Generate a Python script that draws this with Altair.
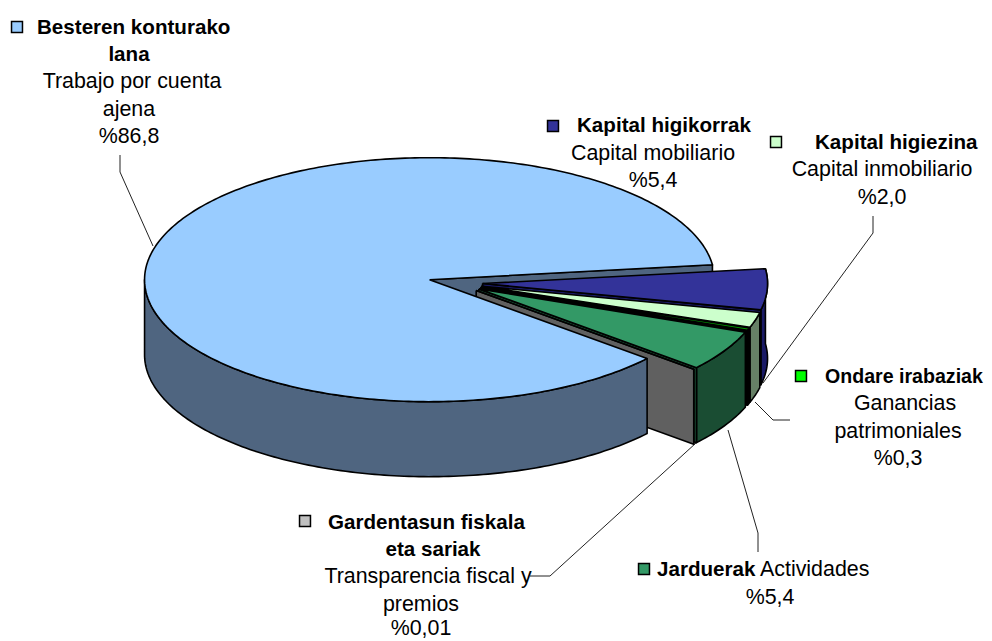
import math
import altair as alt
import pandas as pd

# Slice values (percent) in drawing order, clockwise from the upper-right edge
names = ["Kapital higikorrak", "Kapital higiezina", "Ondare irabaziak", "Jarduerak", "Gardentasun fiskala", "Besteren konturako lana"]
shares = [5.4, 2.0, 0.3, 5.4, 0.01, 86.8]
tops = ["#333399", "#CCFFCC", "#00A000", "#339966", "#C0C0C0", "#99CCFF"]
walls = ["#1A1A66", "#668066", "#000000", "#1A4D33", "#606060", "#4F6580"]
swatches = ["#333399", "#CCFFCC", "#00FF00", "#339966", "#C0C0C0", "#99CCFF"]

# Pie geometry, in picture pixels
CX, CY, RX, RY, DEPTH, EXPLODE, START = 455.5, 283, 285, 122, 75, 0.095, -7
W, H = 976, 633


def rim(cx, cy, t):
    r = math.radians(t)
    return cx + RX * math.cos(r), cy + RY * math.sin(r)


def arc(cx, cy, a, b, dy=0):
    n = max(2, int(abs(b - a)) + 1)
    pts = []
    for i in range(n + 1):
        x, y = rim(cx, cy, a + (b - a) * i / n)
        pts.append((x, y + dy))
    return pts


def poly(points, fill, sw=1.6):
    closed = list(points) + [points[0]]
    df = pd.DataFrame({"x": [p[0] for p in closed], "y": [p[1] for p in closed], "i": range(len(closed))})
    return alt.Chart(df).mark_line(fill=fill, stroke="#000000", strokeWidth=sw, strokeJoin="round").encode(
        x=X, y=Y, order=alt.Order("i:Q"))


X = alt.X("x:Q", scale=alt.Scale(domain=[8, 8 + W]), axis=None)
Y = alt.Y("y:Q", scale=alt.Scale(domain=[8 + H, 8]), axis=None)

layers = []
t = START
geom = []
total = sum(shares)
for name, s, top, wall in zip(names, shares, tops, walls):
    sweep = s / total * 360
    a, b = t, t + sweep
    mid = math.radians((a + b) / 2)
    cx = CX + EXPLODE * RX * math.cos(mid)
    cy = CY + EXPLODE * RY * math.sin(mid)
    geom.append((cx, cy, a, b, top, wall))
    t = b

# cut face of the large slice, seen through the wedge
cx, cy, a, b, top, wall = geom[5]
e = rim(cx, cy, b)
layers.append(poly([(cx, cy), e, (e[0], e[1] + DEPTH), (cx, cy + DEPTH)], wall))

for cx, cy, a, b, top, wall in geom[:5]:
    layers.append(poly(arc(cx, cy, a, b) + arc(cx, cy, b, a, DEPTH), wall))
    e = rim(cx, cy, b)
    layers.append(poly([(cx, cy), e, (e[0], e[1] + DEPTH), (cx, cy + DEPTH)], wall))
    layers.append(poly([(cx, cy)] + arc(cx, cy, a, b), top))

cx, cy, a, b, top, wall = geom[5]
layers.append(poly(arc(cx, cy, a, 180) + arc(cx, cy, 180, a, DEPTH), wall))
layers.append(poly([(cx, cy)] + arc(cx, cy, a, b), top))

# leader lines
leaders = [
    [(120, 155), (120, 172), (153, 246)],
    [(873, 216), (873, 233), (763, 383)],
    [(755, 402), (773, 420), (790, 420)],
    [(728, 430), (758, 533), (758, 552)],
    [(696, 443), (550, 576), (530, 576)],
]
for pts in leaders:
    df = pd.DataFrame({"x": [p[0] for p in pts], "y": [p[1] for p in pts], "i": range(len(pts))})
    layers.append(alt.Chart(df).mark_line(stroke="#222222", strokeWidth=1).encode(x=X, y=Y, order=alt.Order("i:Q")))

# legend keys
key_x = [553, 776, 801, 644, 305, 17]
key_y = [126, 142, 376, 569, 521, 27]
keys = pd.DataFrame({"x": key_x, "y": key_y, "c": swatches})
layers.append(alt.Chart(keys).mark_point(shape="square", filled=True, size=120, stroke="#000000", strokeWidth=1.5, opacity=1).encode(
    x=X, y=Y, fill=alt.Fill("c:N", scale=None)))

# labels: text, x, y, bold, align, size
labels = [
    ("Besteren konturako", 37, 28, True, "left", 20.6),
    ("lana", 129, 55, True, "center", 20.6),
    ("Trabajo por  cuenta", 132, 82, False, "center", 21.4),
    ("ajena", 129, 110, False, "center", 21.4),
    ("%86,8", 129, 137, False, "center", 21.4),
    ("Kapital higikorrak", 577, 126, True, "left", 20.6),
    ("Capital mobiliario", 653, 154, False, "center", 21.4),
    ("%5,4", 653, 181, False, "center", 21.4),
    ("Kapital higiezina", 815, 143, True, "left", 20.6),
    ("Capital inmobiliario", 882, 170, False, "center", 21.4),
    ("%2,0", 882, 198, False, "center", 21.4),
    ("Ondare irabaziak", 825, 377, True, "left", 19.6),
    ("Ganancias", 905, 404, False, "center", 21.4),
    ("patrimoniales", 898, 432, False, "center", 21.4),
    ("%0,3", 898, 459, False, "center", 21.4),
    ("Gardentasun fiskala", 328, 523, True, "left", 20.6),
    ("eta sariak", 433, 550, True, "center", 20.6),
    ("Transparencia fiscal y", 428, 577, False, "center", 21.4),
    ("premios", 421, 605, False, "center", 21.4),
    ("%0,01", 421, 629, False, "center", 21.4),
    ("Jarduerak", 657, 570, True, "left", 20.6),
    ("Actividades", 760, 570, False, "left", 21.4),
    ("%5,4", 770, 598, False, "center", 21.4),
]
df = pd.DataFrame(labels, columns=["t", "x", "y", "bold", "align", "size"])
for (bold, align, size), rows in df.groupby(["bold", "align", "size"]):
    layers.append(alt.Chart(rows[["t", "x", "y"]]).mark_text(
        font="Liberation Sans", fontSize=size, fontWeight="bold" if bold else "normal",
        align=align, baseline="middle", color="#000000").encode(x=X, y=Y, text="t:N"))

chart = alt.layer(*layers).properties(width=W, height=H, padding=0, autosize=alt.AutoSizeParams(type="none")).configure_view(stroke=None)
chart.save("out.html", embed_options={"renderer": "svg", "actions": False})
